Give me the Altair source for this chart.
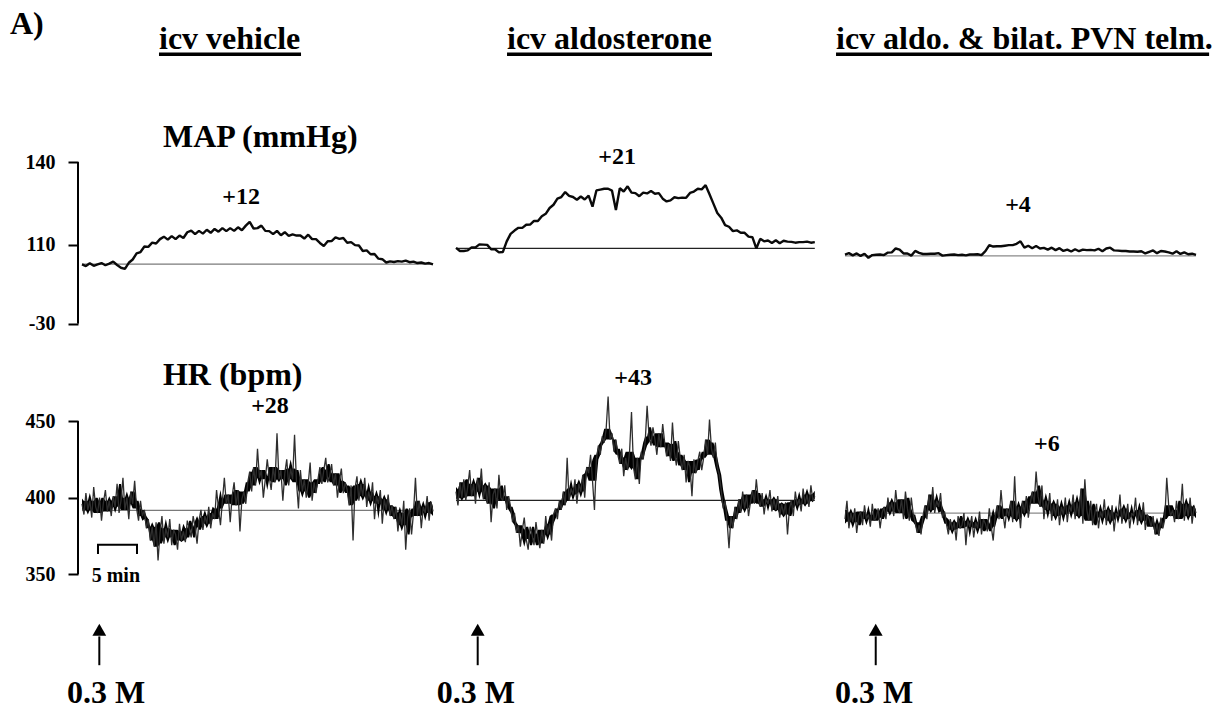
import altair as alt
import pandas as pd

# ------------------------------------------------------------------ data
PANELS = ["icv vehicle", "icv aldosterone", "icv aldo. & bilat. PVN telm."]
MAP_STEP = 0.5    # minutes between MAP samples
HR_STEP = 0.25    # minutes between HR samples
DURATION = [45, 46, 45]  # minutes recorded per panel

MAP_VEHICLE = [
    102.8, 102.2, 103.2, 102.3, 102.8, 103.3, 102.5, 103.1, 103.8, 102.6,
    101.6, 101.2, 103.4, 104.6, 106.8, 107.3, 109.3, 109.2, 110.7, 110.4,
    112.0, 112.9, 111.8, 113.1, 112.0, 113.3, 112.4, 114.5, 115.1, 113.8,
    115.0, 114.0, 115.4, 114.3, 115.7, 114.7, 116.0, 114.9, 116.0, 115.0,
    116.3, 115.2, 116.9, 118.3, 115.8, 116.0, 116.9, 115.0, 114.9, 113.8,
    115.0, 113.4, 114.5, 113.2, 113.7, 113.3, 113.3, 112.2, 113.6, 112.0,
    112.0, 110.6, 109.5, 111.2, 111.3, 112.6, 112.1, 112.4, 110.7, 110.9,
    109.8, 109.7, 107.7, 107.9, 106.5, 106.6, 104.9, 104.7, 103.5, 103.9,
    103.7, 104.0, 103.8, 104.2, 103.6, 103.8, 103.3, 103.5, 103.1, 103.3,
    102.8]
MAP_ALDO = [
    108.8, 107.7, 107.7, 107.9, 109.0, 109.0, 110.1, 110.0, 109.9, 108.3,
    108.3, 107.2, 107.3, 111.2, 113.9, 115.1, 116.1, 116.1, 117.2, 117.3,
    118.6, 118.6, 120.3, 121.2, 123.3, 124.5, 126.7, 127.3, 129.1, 127.7,
    127.3, 126.3, 127.5, 126.4, 127.8, 123.8, 129.7, 130.0, 130.3, 130.3,
    129.6, 122.6, 130.5, 129.3, 131.2, 128.9, 128.7, 127.6, 128.9, 128.6,
    129.5, 128.5, 128.7, 126.7, 125.7, 126.1, 127.2, 126.9, 127.1, 127.0,
    128.8, 129.3, 130.3, 130.1, 131.6, 128.3, 124.9, 121.5, 119.8, 117.1,
    116.5, 114.9, 115.2, 114.3, 114.3, 112.9, 112.7, 108.6, 112.1, 111.2,
    111.5, 110.6, 111.6, 110.5, 111.4, 111.1, 111.0, 110.7, 110.9, 110.9,
    111.1, 110.7, 110.9]
MAP_TELM = [
    106.4, 106.9, 106.1, 106.8, 105.9, 106.7, 105.2, 106.2, 106.3, 106.4,
    106.2, 107.1, 107.2, 108.6, 108.2, 106.8, 106.8, 106.0, 107.7, 107.0,
    106.6, 106.6, 106.7, 106.7, 106.9, 106.0, 106.2, 106.3, 106.4, 106.2,
    106.3, 106.1, 106.4, 106.4, 106.5, 106.2, 107.6, 109.8, 109.3, 109.4,
    109.4, 109.6, 109.8, 109.8, 110.3, 111.2, 108.9, 109.6, 108.7, 109.5,
    108.6, 108.8, 108.2, 108.9, 108.0, 108.7, 107.7, 108.2, 107.5, 108.3,
    107.6, 108.2, 108.0, 108.1, 107.9, 108.5, 107.6, 108.6, 108.9, 107.9,
    107.8, 107.7, 107.7, 107.5, 107.5, 107.4, 107.6, 106.8, 107.4, 107.9,
    106.9, 107.7, 107.5, 107.2, 106.7, 107.6, 106.6, 107.2, 106.5, 106.7,
    106.3]

HR_VEHICLE = [
    396, 389, 403, 392, 398, 387, 407, 394, 390, 400, 385, 397, 405, 391, 398, 388,
    401, 394, 409, 390, 398, 413, 392, 400, 386, 404, 396, 411, 393, 385, 398, 388,
    392, 380, 386, 372, 381, 368, 384, 359, 377, 388, 370, 380, 374, 386, 369, 379,
    376, 366, 383, 372, 378, 371, 385, 380, 374, 388, 381, 370, 385, 392, 379, 388,
    383, 394, 380, 390, 386, 405, 393, 382, 398, 413, 396, 402, 384, 401, 410, 395,
    405, 378, 399, 404, 396, 410, 417, 404, 420, 408, 432, 413, 418, 400, 412, 425,
    414, 405, 420, 410, 442, 412, 418, 398, 416, 425, 408, 419, 412, 441, 410, 393,
    418, 404, 412, 400, 409, 423, 398, 410, 403, 412, 420, 409, 418, 426, 410, 414,
    422, 408, 416, 400, 411, 419, 403, 410, 405, 395, 408, 372, 406, 414, 398, 409,
    401, 413, 394, 404, 398, 410, 386, 401, 396, 405, 383, 399, 392, 402, 388, 395,
    386, 394, 378, 390, 382, 398, 366, 387, 393, 376, 390, 413, 388, 398, 380, 394,
    390, 401, 385, 397, 391]
HR_ALDO = [
    404, 395, 410, 400, 412, 398, 407, 418, 401, 409, 396, 413, 404, 419, 399, 408,
    396, 410, 384, 402, 406, 393, 415, 400, 398, 408, 392, 401, 394, 384, 390, 377,
    382, 368, 379, 387, 373, 366, 381, 376, 369, 384, 374, 367, 379, 370, 388, 376,
    383, 372, 389, 393, 386, 398, 392, 404, 395, 426, 398, 406, 402, 412, 396, 409,
    404, 415, 400, 420, 416, 428, 411, 392, 425, 434, 428, 440, 436, 445, 466, 438,
    442, 430, 438, 428, 422, 432, 414, 426, 418, 430, 456, 420, 412, 426, 409, 430,
    425, 436, 460, 440, 434, 446, 438, 428, 442, 433, 448, 436, 427, 435, 424, 449,
    430, 421, 437, 426, 418, 428, 410, 424, 420, 401, 425, 416, 424, 430, 418, 426,
    438, 428, 451, 432, 426, 436, 420, 415, 405, 393, 398, 385, 367, 388, 380, 394,
    386, 399, 390, 404, 393, 402, 388, 397, 405, 396, 412, 399, 394, 403, 389, 399,
    396, 405, 391, 399, 392, 401, 387, 396, 389, 397, 376, 393, 398, 388, 404, 395,
    399, 391, 406, 396, 402, 394, 408, 398, 401]
HR_TELM = [
    386, 398, 380, 390, 384, 393, 377, 388, 391, 382, 395, 386, 389, 381, 396, 385,
    387, 393, 380, 390, 394, 386, 400, 391, 397, 388, 405, 393, 390, 399, 386, 404,
    393, 385, 400, 389, 384, 377, 382, 376, 388, 395, 386, 402, 392, 407, 390, 398,
    394, 403, 387, 391, 383, 376, 386, 379, 384, 372, 388, 380, 382, 390, 369, 385,
    381, 388, 374, 384, 380, 391, 376, 386, 383, 378, 393, 381, 372, 388, 395, 386,
    405, 390, 380, 393, 388, 398, 384, 414, 386, 394, 380, 398, 390, 401, 387, 396,
    404, 396, 417, 401, 394, 408, 386, 398, 392, 403, 385, 396, 388, 399, 382, 394,
    389, 400, 384, 395, 391, 402, 386, 397, 388, 406, 383, 412, 392, 385, 398, 382,
    389, 396, 380, 391, 387, 399, 382, 392, 385, 395, 378, 390, 388, 402, 383, 393,
    386, 396, 380, 390, 388, 400, 382, 392, 385, 397, 379, 389, 386, 381, 388, 376,
    383, 375, 387, 380, 386, 413, 395, 388, 392, 384, 398, 386, 391, 409, 385, 396,
    388, 400, 383, 394, 390]

MAP_BASELINE = [102.9, 108.6, 105.9]
HR_BASELINE = [391.7, 398.2, 389.9]
MAP_CHANGE = ["+12", "+21", "+4"]
HR_CHANGE = ["+28", "+43", "+6"]
DOSE = "0.3 M"
MAP_TICK_LABELS = ["140", "110", "-30"]
HR_TICKS = [450, 400, 350]
SCALE_BAR_MIN = 5

# ------------------------------------------------------------------ layout
PANEL_START = [0.0, 47.95, 97.82]          # where each panel starts on the shared time axis (min)
X_DOMAIN = [-10.513, 146.795]
MAP_DOMAIN = [-57.33, 198.91]
HR_DOMAIN = [264.61, 725.0]
MAP_TICK_POS = [140, 110, 81.27]           # "-30" sits below an axis break
AXIS_X = -0.513
SERIF = "Liberation Serif"
BASE_COLORS = ["#7a7a7a", "#222222", "#8a8a8a"]


def traces(lists, step):
    rows = []
    for p, vals in enumerate(lists):
        for i, v in enumerate(vals):
            rows.append({"panel": PANELS[p], "x": PANEL_START[p] + i * step, "v": v})
    return pd.DataFrame(rows)


def baselines(values):
    return pd.DataFrame({
        "panel": PANELS,
        "x": PANEL_START,
        "x2": [s + d for s, d in zip(PANEL_START, DURATION)],
        "v": values,
    })


map_df = traces([MAP_VEHICLE, MAP_ALDO, MAP_TELM], MAP_STEP)
hr_df = traces([HR_VEHICLE, HR_ALDO, HR_TELM], HR_STEP)

X = alt.X("x:Q", scale=alt.Scale(domain=X_DOMAIN, nice=False, zero=False), axis=None)
COLOR = alt.Color("panel:N", scale=alt.Scale(domain=PANELS, range=BASE_COLORS), legend=None)

axis_style = dict(
    orient="left", offset=-78, domain=False, grid=False, ticks=True,
    tickSize=10, tickWidth=2, tickColor="black",
    labelFont=SERIF, labelFontSize=20, labelFontWeight="bold", labelColor="black",
    labelPadding=13, labelBaseline="middle", title=None,
)
map_label_expr = " : ".join(
    f"datum.value == {p} ? '{l}'" for p, l in zip(MAP_TICK_POS[:-1], MAP_TICK_LABELS[:-1])
) + f" : '{MAP_TICK_LABELS[-1]}'"
MAP_SCALE = alt.Scale(domain=MAP_DOMAIN, nice=False, zero=False)
MAP_AXIS = alt.Axis(values=MAP_TICK_POS, labelExpr=map_label_expr, **axis_style)
HR_SCALE = alt.Scale(domain=HR_DOMAIN, nice=False, zero=False)
HR_AXIS = alt.Axis(values=HR_TICKS, **axis_style)
MAP_Y = alt.Y("v:Q", scale=MAP_SCALE, axis=MAP_AXIS)
HR_Y = alt.Y("v:Q", scale=HR_SCALE, axis=HR_AXIS)


def big_text(df, align="left", size=32):
    return alt.Chart(df).mark_text(
        font=SERIF, fontWeight="bold", fontSize=size, align=align,
        baseline="alphabetic", color="black")


# ---------------- MAP row
map_axis_line = alt.Chart(pd.DataFrame({"x": [AXIS_X], "v": [MAP_TICK_POS[0]], "v2": [MAP_TICK_POS[-1]]})
                          ).mark_rule(color="black", strokeWidth=2).encode(x=X, y=MAP_Y, y2="v2")
map_base = alt.Chart(baselines(MAP_BASELINE)).mark_rule(strokeWidth=1.3).encode(
    x=X, x2="x2", y=MAP_Y, color=COLOR)
map_line = alt.Chart(map_df).mark_line(color="#0a0a0a", strokeWidth=2.4, strokeJoin="bevel").encode(
    x=X, y=MAP_Y, detail="panel:N")

header_df = pd.DataFrame({
    "x": [-9.23, 9.87, 54.49, 96.67, 10.38],
    "v": [186.5, 181.2, 181.2, 181.2, 145.3],
    "text": ["A)"] + PANELS + ["MAP (mmHg)"],
})
headers = big_text(header_df).encode(x=X, y=MAP_Y, text="text:N")
underline = alt.Chart(pd.DataFrame({
    "x": [9.87, 54.49, 96.67], "x2": [28.08, 80.77, 144.5], "v": [179.2, 179.2, 179.2]})
).mark_rule(color="black", strokeWidth=3.5).encode(x=X, x2="x2", y=MAP_Y)
map_change = big_text(pd.DataFrame({
    "x": [20.4, 68.6, 120.0], "v": [124.8, 139.3, 121.8], "text": MAP_CHANGE}),
    align="center", size=24).encode(x=X, y=MAP_Y, text="text:N")

map_group = alt.layer(map_axis_line, map_base, map_line, headers, underline, map_change)

# ---------------- HR row
hr_axis_line = alt.Chart(pd.DataFrame({"x": [AXIS_X], "v": [HR_TICKS[0]], "v2": [HR_TICKS[-1]]})
                         ).mark_rule(color="black", strokeWidth=2).encode(x=X, y=HR_Y, y2="v2")
hr_base = alt.Chart(baselines(HR_BASELINE)).mark_rule(strokeWidth=1.3).encode(
    x=X, x2="x2", y=HR_Y, color=COLOR)
# dense core of the noisy recording: running inter-quartile band of the sampled trace
hr_core = alt.Chart(hr_df).transform_window(
    lo="q1(v)", hi="q3(v)", frame=[-2, 2], groupby=["panel"], sort=[alt.SortField("x")]
).mark_area(color="#000000", opacity=1).encode(
    x=X, y=alt.Y("lo:Q", scale=HR_SCALE, axis=HR_AXIS), y2="hi:Q", detail="panel:N")
hr_line = alt.Chart(hr_df).mark_line(color="#2e2e2e", strokeWidth=1.3, strokeJoin="bevel").encode(
    x=X, y=HR_Y, detail="panel:N")
hr_title = big_text(pd.DataFrame({"x": [10.38], "v": [473.7], "text": ["HR (bpm)"]})).encode(
    x=X, y=HR_Y, text="text:N")
hr_change = big_text(pd.DataFrame({
    "x": [24.1, 70.65, 123.7], "v": [455.5, 473.9, 430.6], "text": HR_CHANGE}),
    align="center", size=24).encode(x=X, y=HR_Y, text="text:N")

bar_x0 = 2.05
bracket = alt.Chart(pd.DataFrame({
    "x": [bar_x0, bar_x0, bar_x0 + SCALE_BAR_MIN, bar_x0 + SCALE_BAR_MIN],
    "v": [363.3, 369.2, 369.2, 363.3], "o": [0, 1, 2, 3]})
).mark_line(color="black", strokeWidth=2).encode(x=X, y=HR_Y, order="o:O")
bar_text = big_text(pd.DataFrame({"x": [1.24], "v": [345.1], "text": [f"{SCALE_BAR_MIN} min"]}),
                    size=20).encode(x=X, y=HR_Y, text="text:N")

arrow_x = [2.22, 50.73, 101.76]
shafts = alt.Chart(pd.DataFrame({"x": arrow_x, "v": [309.4] * 3, "v2": [290.6] * 3})
                   ).mark_rule(color="black", strokeWidth=2).encode(x=X, y=HR_Y, y2="v2")
heads = alt.Chart(pd.DataFrame({"x": arrow_x, "v": [313.8] * 3})).mark_point(
    shape="triangle-up", filled=True, size=190, color="black", opacity=1).encode(x=X, y=HR_Y)
dose = big_text(pd.DataFrame({"x": [-1.92, 45.47, 96.54], "v": [266.1] * 3, "text": [DOSE] * 3})
                ).encode(x=X, y=HR_Y, text="text:N")

hr_group = alt.layer(hr_axis_line, hr_base, hr_core, hr_line, hr_title, hr_change,
                     bracket, bar_text, shafts, heads, dose)

chart = (
    alt.layer(map_group, hr_group)
    .resolve_scale(y="independent")
    .properties(width=1227, height=709, padding=0, background="white",
                autosize=alt.AutoSizeParams(type="fit", contains="padding"))
    .configure_view(stroke=None)
)

chart.save("out.html", embed_options={"renderer": "svg", "actions": False})
